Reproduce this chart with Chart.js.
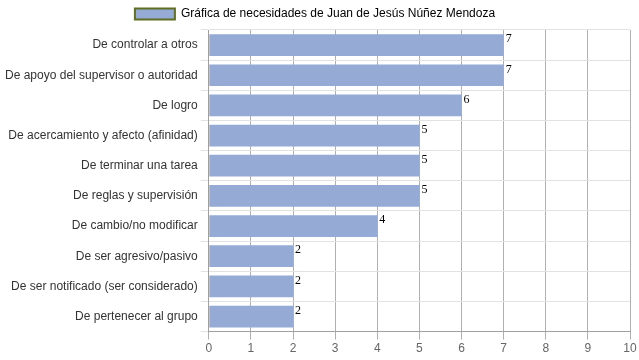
<!DOCTYPE html>
<html>
<head>
<meta charset="utf-8">
<script src="https://cdn.jsdelivr.net/npm/chart.js@4"></script>
<style>
  body { margin: 0; background: #fff; }
</style>
</head>
<body>
<canvas id="needsChart" width="639" height="360"></canvas>
<script>
const categories = [
    "De controlar a otros",
    "De apoyo del supervisor o autoridad",
    "De logro",
    "De acercamiento y afecto (afinidad)",
    "De terminar una tarea",
    "De reglas y supervisión",
    "De cambio/no modificar",
    "De ser agresivo/pasivo",
    "De ser notificado (ser considerado)",
    "De pertenecer al grupo"
];
const needValues = [7, 7, 6, 5, 5, 5, 4, 2, 2, 2];
const xTicks = [0, 1, 2, 3, 4, 5, 6, 7, 8, 9, 10];
const seriesLabel = "Gráfica de necesidades de Juan de Jesús Núñez Mendoza";

/* ================= VALUE LABELS ================= */

const valueLabels = {
    id: "valueLabels",
    afterDatasetsDraw(chart) {
        const ctx = chart.ctx;
        const meta = chart.getDatasetMeta(0);
        ctx.save();
        ctx.font = "12px 'Liberation Serif', serif";
        ctx.fillStyle = "#000";
        ctx.textBaseline = "top";
        ctx.textAlign = "left";
        meta.data.forEach((bar, i) => {
            ctx.fillText(needValues[i], bar.x + 2, bar.y - bar.height / 2 - 1);
        });
        ctx.restore();
    }
};

new Chart(document.getElementById("needsChart"), {
    type: "bar",
    data: {
        labels: categories,
        datasets: [{
            label: seriesLabel,
            data: needValues,
            backgroundColor: "#95aad5",
            borderWidth: 0,
            barPercentage: 0.72,
            categoryPercentage: 1
        }]
    },
    options: {
        indexAxis: "y",
        responsive: false,
        animation: false,
        layout: { padding: { left: 0, right: 9, bottom: 2 } },
        plugins: {
            tooltip: { enabled: false },
            legend: {
                labels: {
                    boxWidth: 40,
                    boxHeight: 11,
                    color: "#333",
                    font: { family: "'Liberation Sans', Arial", size: 12 },
                    padding: 8,
                    generateLabels: () => [{
                        text: seriesLabel,
                        fillStyle: "#95aad5",
                        strokeStyle: "#5f6e22",
                        lineWidth: 2,
                        datasetIndex: 0
                    }]
                }
            }
        },
        scales: {
            x: {
                min: 0,
                max: 10,
                z: 1,
                afterBuildTicks: axis => { axis.ticks = xTicks.map(v => ({ value: v })); },
                afterFit: axis => { axis.paddingRight = 0; },
                grid: { color: "#b0b0b0", drawTicks: true, tickLength: 8 },
                border: { color: "#a0a0a0" },
                ticks: {
                    color: "#666",
                    padding: 2,
                    font: { family: "'Liberation Sans', Arial", size: 12 }
                }
            },
            y: {
                afterFit: axis => { axis.width += 2; },
                grid: { color: "#e2e2e2", tickLength: 8 },
                border: { color: "#a0a0a0" },
                ticks: {
                    color: "#333",
                    padding: 3,
                    font: { family: "'Liberation Sans', Arial", size: 12 }
                }
            }
        }
    },
    plugins: [valueLabels]
});
</script>
</body>
</html>
